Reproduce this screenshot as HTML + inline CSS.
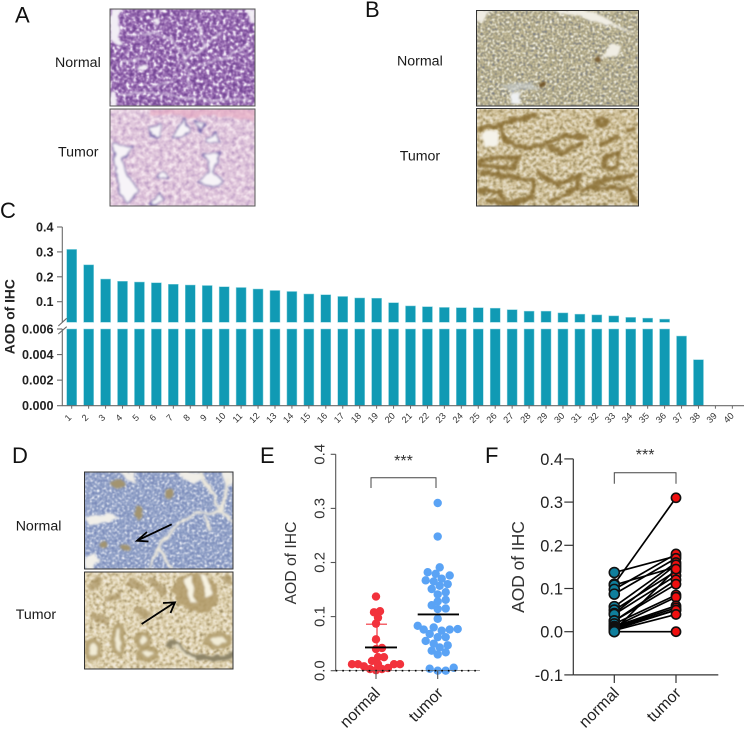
<!DOCTYPE html>
<html lang="en">
<head>
<meta charset="utf-8">
<title>AOD of IHC figure</title>
<style>
html,body{margin:0;padding:0;background:#fff;}
svg{display:block;font-family:"Liberation Sans",sans-serif;}
</style>
</head>
<body>
<svg id="fig" width="744" height="730" viewBox="0 0 744 730" xmlns="http://www.w3.org/2000/svg">
<defs>
<filter id="f-a1" x="0" y="0" width="100%" height="100%" color-interpolation-filters="sRGB">
<feTurbulence type="fractalNoise" baseFrequency="0.3" numOctaves="2" seed="3"/>
<feColorMatrix values="1 0 0 0 0 1 0 0 0 0 1 0 0 0 0 0 0 0 0 1"/>
<feComponentTransfer><feFuncR type="table" tableValues=".44 .44 .44 .47 .53 .6 .72 .92 1 1 1"/><feFuncG type="table" tableValues=".26 .26 .26 .29 .35 .43 .58 .88 1 1 1"/><feFuncB type="table" tableValues=".57 .57 .57 .6 .64 .7 .79 .95 1 1 1"/></feComponentTransfer>
<feGaussianBlur stdDeviation=".55"/>
</filter>
<filter id="f-a2" x="0" y="0" width="100%" height="100%" color-interpolation-filters="sRGB">
<feTurbulence type="fractalNoise" baseFrequency="0.22" numOctaves="3" seed="8"/>
<feColorMatrix values="1 0 0 0 0 1 0 0 0 0 1 0 0 0 0 0 0 0 0 1"/>
<feComponentTransfer><feFuncR type="table" tableValues=".66 .66 .7 .78 .84 .88 .93 .98 1 1 1"/><feFuncG type="table" tableValues=".55 .55 .6 .68 .75 .81 .87 .95 1 1 1"/><feFuncB type="table" tableValues=".72 .72 .76 .82 .85 .88 .92 .97 1 1 1"/></feComponentTransfer>
<feGaussianBlur stdDeviation=".5"/>
</filter>
<filter id="f-b1" x="0" y="0" width="100%" height="100%" color-interpolation-filters="sRGB">
<feTurbulence type="fractalNoise" baseFrequency="0.42" numOctaves="2" seed="5"/>
<feColorMatrix values="1 0 0 0 0 1 0 0 0 0 1 0 0 0 0 0 0 0 0 1"/>
<feComponentTransfer><feFuncR type="table" tableValues=".46 .46 .46 .54 .64 .72 .8 .92 1 1 1"/><feFuncG type="table" tableValues=".48 .48 .48 .54 .62 .68 .77 .92 1 1 1"/><feFuncB type="table" tableValues=".54 .54 .54 .54 .5 .54 .64 .88 1 1 1"/></feComponentTransfer>
<feGaussianBlur stdDeviation=".6"/>
</filter>
<filter id="f-b2" x="0" y="0" width="100%" height="100%" color-interpolation-filters="sRGB">
<feTurbulence type="fractalNoise" baseFrequency="0.3" numOctaves="3" seed="11"/>
<feColorMatrix values="1 0 0 0 0 1 0 0 0 0 1 0 0 0 0 0 0 0 0 1"/>
<feComponentTransfer><feFuncR type="table" tableValues=".5 .5 .55 .65 .78 .86 .92 .97 1 1 1"/><feFuncG type="table" tableValues=".45 .45 .5 .6 .72 .81 .89 .96 1 1 1"/><feFuncB type="table" tableValues=".3 .3 .36 .44 .55 .68 .8 .92 1 1 1"/></feComponentTransfer>
<feGaussianBlur stdDeviation=".5"/>
</filter>
<filter id="f-d1" x="0" y="0" width="100%" height="100%" color-interpolation-filters="sRGB">
<feTurbulence type="fractalNoise" baseFrequency="0.4" numOctaves="2" seed="2"/>
<feColorMatrix values="1 0 0 0 0 1 0 0 0 0 1 0 0 0 0 0 0 0 0 1"/>
<feComponentTransfer><feFuncR type="table" tableValues=".46 .46 .46 .5 .53 .58 .66 .84 1 1 1"/><feFuncG type="table" tableValues=".52 .52 .52 .56 .6 .64 .71 .86 1 1 1"/><feFuncB type="table" tableValues=".72 .72 .72 .74 .76 .79 .83 .92 1 1 1"/></feComponentTransfer>
<feGaussianBlur stdDeviation=".55"/>
</filter>
<filter id="f-d2" x="0" y="0" width="100%" height="100%" color-interpolation-filters="sRGB">
<feTurbulence type="fractalNoise" baseFrequency="0.3" numOctaves="3" seed="14"/>
<feColorMatrix values="1 0 0 0 0 1 0 0 0 0 1 0 0 0 0 0 0 0 0 1"/>
<feComponentTransfer><feFuncR type="table" tableValues=".55 .55 .6 .72 .84 .9 .95 .99 1 1 1"/><feFuncG type="table" tableValues=".5 .5 .55 .66 .79 .86 .92 .97 1 1 1"/><feFuncB type="table" tableValues=".36 .36 .42 .52 .64 .75 .84 .93 1 1 1"/></feComponentTransfer>
<feGaussianBlur stdDeviation=".5"/>
</filter>
<filter id="rough" x="-5%" y="-5%" width="110%" height="110%">
<feTurbulence type="fractalNoise" baseFrequency="0.12" numOctaves="2" seed="4" result="n"/>
<feDisplacementMap in="SourceGraphic" in2="n" scale="6" xChannelSelector="R" yChannelSelector="G"/>
<feGaussianBlur stdDeviation="1"/>
</filter>
<clipPath id="c-a1"><rect x="110" y="9" width="145" height="97"/></clipPath>
<clipPath id="c-a2"><rect x="110" y="109" width="145" height="97"/></clipPath>
<clipPath id="c-b1"><rect x="476.5" y="10.5" width="162" height="95.5"/></clipPath>
<clipPath id="c-b2"><rect x="476.5" y="108.5" width="162" height="97.5"/></clipPath>
<clipPath id="c-d1"><rect x="84.5" y="472" width="148.5" height="97"/></clipPath>
<clipPath id="c-d2"><rect x="84.5" y="572" width="148.5" height="97"/></clipPath>
</defs>

<!-- panel letters -->
<g font-size="22" fill="#111">
<text x="15" y="22.5">A</text>
<text x="365" y="17">B</text>
<text x="0" y="218">C</text>
<text x="12" y="463">D</text>
<text x="260" y="463">E</text>
<text x="485" y="463">F</text>
</g>

<!-- row labels -->
<g font-size="14.2" fill="#1a1a1a">
<text x="55" y="67">Normal</text>
<text x="58" y="156.7">Tumor</text>
<text x="397" y="65.7">Normal</text>
<text x="399.7" y="160.7">Tumor</text>
<text x="15.7" y="530.7">Normal</text>
<text x="15.7" y="619">Tumor</text>
</g>

<!-- panel A normal -->
<g clip-path="url(#c-a1)">
<rect x="110" y="9" width="145" height="97" filter="url(#f-a1)"/>
<g fill="#f2eef5" filter="url(#rough)">
<path d="M110 9H121L118 24 122 44 115 46 110 36Z"/>
<path d="M247 9H255V26L250 20Z"/>
<path d="M110 92 116 94 117 106H110Z"/>
<ellipse cx="157" cy="22" rx="2.5" ry="3"/>
<ellipse cx="143" cy="68" rx="5" ry="2.5"/>
</g>
<g fill="none" stroke="#f3edf7" stroke-width="1.4" opacity=".9" filter="url(#rough)">
<path d="M120 95Q150 90 175 96T250 99"/>
<path d="M185 58 188 72 190 88M185 58 205 48 222 32"/>
<path d="M135 35 155 33 172 40 185 58"/>
<path d="M122 62 150 58M200 65 222 60 250 45M195 15 205 48M150 88 175 80"/>
</g>
</g>
<rect x="110" y="9" width="145" height="97" fill="none" stroke="#555" stroke-width="1"/>

<!-- panel A tumor -->
<g clip-path="url(#c-a2)">
<rect x="110" y="109" width="145" height="97" filter="url(#f-a2)"/>
<rect x="110" y="109" width="145" height="97" fill="#dfb4cf" opacity=".25"/>
<path d="M150 109H255V122Q215 112 190 118 170 112 150 116Z" fill="#e9a9c0" opacity=".6" filter="url(#rough)"/>
<g fill="#f7f4f8" stroke="#6f5ea8" stroke-width="1.3" filter="url(#rough)">
<path d="M113 144 124 145 132 146 128 152 122 160 126 172 134 184 138 192 128 203 120 195 116 170Z"/>
<path d="M149 128 162 124 160 138 151 137Z"/>
<path d="M172 138 185 118 190 132 178 139Z"/>
<path d="M205 138 216 132 220 143 206 143Z"/>
<path d="M203 154 220 154 212 172 222 181 214 187 198 182 208 172 209 162Z"/>
<ellipse cx="163" cy="176" rx="5" ry="3"/>
<path d="M150 204 160 192 164 200 157 205Z"/>
<path d="M195 120 205 124 200 132Z"/>
</g>
</g>
<rect x="110" y="109" width="145" height="97" fill="none" stroke="#555" stroke-width="1"/>

<!-- panel B normal -->
<g clip-path="url(#c-b1)">
<rect x="476.5" y="10.5" width="162" height="95.5" filter="url(#f-b1)"/>
<g filter="url(#rough)">
<path d="M476 10H492L482 22H476ZM548 10H585L600 14 615 24 636 34 610 26 580 16 560 14ZM600 58 612 44 622 46 616 56Z" fill="#f0ede4"/>
<path d="M512 92 520 92 522 104H510Z" fill="#eef0f2"/>
<path d="M500 85 530 82 540 88 510 92Z" fill="#c9d0d6" opacity=".6"/>
<ellipse cx="543" cy="85" rx="4" ry="2.5" fill="#6d5022"/>
<ellipse cx="597" cy="59" rx="4" ry="2.5" fill="#7a6034"/>
</g>
</g>
<rect x="476.5" y="10.5" width="162" height="95.5" fill="none" stroke="#333" stroke-width="1"/>

<!-- panel B tumor -->
<g clip-path="url(#c-b2)">
<rect x="476.5" y="108.5" width="162" height="97.5" filter="url(#f-b2)"/>
<rect x="476.5" y="108.5" width="162" height="97.5" fill="#b59c66" opacity=".25"/>
<g fill="none" stroke="#84672c" stroke-width="4.5" opacity=".8" filter="url(#rough)">
<path d="M478 130 500 125 513 120 537 115"/>
<path d="M500 125 507 142 527 148 547 143 567 135 587 138"/>
<path d="M547 147 563 153 583 142"/>
<path d="M478 162 493 157 520 158 513 168 490 167 478 165"/>
<path d="M480 173 503 175 533 180 532 198 510 202"/>
<path d="M537 172 557 185 580 175 577 188 550 202"/>
<path d="M580 192 603 180 635 175"/>
<path d="M590 188 627 188 635 202"/>
<path d="M603 168 607 155 620 152 617 168 603 168"/>
<path d="M478 190 500 192 505 200"/>
<path d="M625 130 636 128M600 145 620 136"/>
<path d="M485 200 520 205"/>
<ellipse cx="602" cy="122" rx="5" ry="3"/>
</g>
<path d="M482 133 497 130 498 147 485 148Z" fill="#f5f3ea" filter="url(#rough)"/>
</g>
<rect x="476.5" y="108.5" width="162" height="97.5" fill="none" stroke="#333" stroke-width="1"/>

<!-- panel D normal -->
<g clip-path="url(#c-d1)">
<rect x="84.5" y="472" width="148.5" height="97" filter="url(#f-d1)"/>
<g filter="url(#rough)">
<path d="M120 472H133L137 484 128 481ZM180 472H199L205 476 195 484 184 480ZM222 472H233V485L226 488Z" fill="#f0eee8"/>
<path d="M85 516 100 515 114 513 118 519 106 522 90 526ZM85 555 96 552 99 560 92 569H85Z" fill="#f2f0ea"/>
<g fill="#a3946f">
<ellipse cx="118" cy="484" rx="7" ry="5"/>
<ellipse cx="169" cy="493" rx="4" ry="6"/>
<ellipse cx="139" cy="513" rx="4" ry="7"/>
<ellipse cx="103" cy="545" rx="4" ry="4"/>
<ellipse cx="126" cy="547" rx="5" ry="4"/>
</g>
<g fill="none" stroke="#ece8dc" stroke-width="3">
<path d="M228 480 222 512 233 522"/>
<path d="M222 512 198 513 180 522 158 548 150 569"/>
<path d="M158 548 172 569"/>
<path d="M205 516 210 530"/>
<path d="M200 472 215 500 222 512"/>
</g>
</g>
</g>
<rect x="84.5" y="472" width="148.5" height="97" fill="none" stroke="#333" stroke-width="1"/>
<g stroke="#000" stroke-width="1.8" fill="none">
<path d="M171.7 524.3 137 540.7M147 532 137 540.7 148.5 541.5"/>
</g>

<!-- panel D tumor -->
<g clip-path="url(#c-d2)">
<rect x="84.5" y="572" width="148.5" height="97" filter="url(#f-d2)"/>
<rect x="84.5" y="572" width="148.5" height="97" fill="#c2ad7a" opacity=".22"/>
<g filter="url(#rough)">
<path d="M172 590 180 577 190 573 204 572 217 585 219 600 208 612 190 610 178 602Z" fill="#b09a68" opacity=".85"/>
<path d="M184 578 191 576 197 604 190 603ZM199 574 206 575 213 596 206 597Z" fill="#f7f3e2"/>
<g fill="#f2ecd6" stroke="#ab9663" stroke-width="5" stroke-opacity=".8">
<ellipse cx="93" cy="650" rx="6" ry="9"/>
<ellipse cx="118" cy="640" rx="5" ry="14"/>
<ellipse cx="143" cy="640" rx="6" ry="6"/>
<ellipse cx="148" cy="654" rx="9" ry="5"/>
<ellipse cx="218" cy="641" rx="11" ry="6"/>
</g>
<g fill="none" stroke="#a8925f" stroke-width="7" stroke-opacity=".7">
<path d="M90 590 100 578 M105 600 120 595 M128 582 145 590 M150 578 165 595 M92 615 108 622 M135 610 150 616"/>
<path d="M224 576 230 582"/>
</g>
<path d="M168 648Q170 637 177 645T190 655 215 658 232 652" fill="none" stroke="#8d8468" stroke-width="5"/>
<path d="M172 648Q176 643 180 650T195 658" fill="none" stroke="#efe9d2" stroke-width="2"/>
</g>
</g>
<rect x="84.5" y="572" width="148.5" height="97" fill="none" stroke="#333" stroke-width="1"/>
<g stroke="#000" stroke-width="1.8" fill="none">
<path d="M141.7 624 175 602.3M163 603 175 602.3 170.5 613"/>
</g>

<g id="chart-c"></g>
<g id="chart-e"></g>
<g id="chart-f"></g>
</svg>

<script>
// ---- data ----
var sampleLabels = ['1','2','3','4','5','6','7','8','9','10','11','12','13','14','15','16','17','18','19','20','21','22','23','24','25','26','27','28','29','30','31','32','33','34','35','36','37','38','39','40'];
var sampleAod = [0.31,0.248,0.191,0.182,0.179,0.176,0.17,0.167,0.165,0.16,0.157,0.151,0.145,0.141,0.131,0.128,0.121,0.115,0.114,0.096,0.083,0.08,0.077,0.076,0.076,0.074,0.068,0.062,0.062,0.055,0.05,0.047,0.043,0.037,0.034,0.03,0.00545,0.0036,0,0];
var upperTicks = [0.1,0.2,0.3,0.4];
var upperTickLabels = ['0.1','0.2','0.3','0.4'];
var lowerTicks = [0,0.002,0.004,0.006];
var lowerTickLabels = ['0.000','0.002','0.004','0.006'];

var scatterNormal = [0.137,0.11,0.108,0.098,0.087,0.058,0.042,0.04,0.025,0.025,0.018,0.012,0.012,0.012,0.012,0.012,0.008,0.005,0.003,0.003,0.001];
var scatterTumor = sampleAod;
var scatterNormalMean = 0.043;
var scatterTumorMean = 0.104;
var scatterNormalSdTop = 0.086;
var scatterTicks = [0,0.1,0.2,0.3,0.4];
var scatterTickLabels = ['0.0','0.1','0.2','0.3','0.4'];
var groupLabels = ['normal','tumor'];

var pairedNormal = [0.137,0.11,0.108,0.098,0.087,0.058,0.05,0.042,0.04,0.025,0.025,0.018,0.012,0.012,0.01,0.008,0.005,0.003,0.003,0];
var pairedTumor = [0.175,0.31,0.15,0.18,0.17,0.16,0.14,0.155,0.13,0.12,0.11,0.085,0.08,0.06,0.055,0.05,0.05,0.04,0.145,0];
var pairedTicks = [-0.1,0,0.1,0.2,0.3,0.4];
var pairedTickLabels = ['-0.1','0.0','0.1','0.2','0.3','0.4'];

// ---- helpers ----
var NS = 'http://www.w3.org/2000/svg';
function make(parent, tag, attrs, txt) {
  var el = document.createElementNS(NS, tag);
  for (var k in attrs) el.setAttribute(k, attrs[k]);
  if (txt !== undefined) el.textContent = txt;
  parent.appendChild(el);
  return el;
}
function line(parent, x1, y1, x2, y2, color, w) {
  return make(parent, 'line', {x1:x1, y1:y1, x2:x2, y2:y2, stroke:color, 'stroke-width':w});
}

// ---- panel C ----
(function () {
  var g = document.getElementById('chart-c');
  var axisColor = '#6a6a6a', barColor = '#109ab4', barEdge = '#8ad3df';
  function xC(i) { return 71.7 + i * 16.94; }
  function yUp(v) { return 301.7 + (0.1 - v) * 249; }
  function yLow(v) { return 405.7 - v * 12783; }
  var breakBottom = 322.3, breakTop = yLow(0.006);

  sampleAod.forEach(function (v, i) {
    if (v > 0.006) {
      var up = make(g, 'rect', {x:xC(i)-5, y:yUp(v), width:10, height:Math.max(0, breakBottom-yUp(v)), fill:barColor, stroke:barEdge, 'stroke-width':0.5});
      
      
    }
    if (v > 0) {
      var top = yLow(Math.min(v, 0.006));
      var low = make(g, 'rect', {x:xC(i)-5, y:top, width:10, height:405.7-top, fill:barColor, stroke:barEdge, 'stroke-width':0.5});
      
      
    }
  });

  var yAxisUp = line(g, 62.3, yUp(0.4), 62.3, 322, axisColor, 1.1);
  
  
  var yAxisLow = line(g, 62.3, breakTop, 62.3, 405.7, axisColor, 1.1);
  
  
  var b1 = line(g, 58.3, 326, 66.7, 318.3, axisColor, 1.1);
  
  
  var b2 = line(g, 58.3, 334, 66.7, 326.7, axisColor, 1.1);
  
  
  var xAxis = line(g, 62, 405.7, 744, 405.7, axisColor, 1.1);
  
  

  function yTick(y, label) {
    var t = line(g, 57, y, 62.3, y, axisColor, 1.1);
    
    
    var l = make(g, 'text', {x:53.5, y:y+4.5, 'text-anchor':'end', 'font-size':12.6, 'font-weight':'bold', fill:'#222'}, label);
    
    
  }
  upperTicks.forEach(function (v, i) { yTick(yUp(v), upperTickLabels[i]); });
  lowerTicks.forEach(function (v, i) { yTick(yLow(v), lowerTickLabels[i]); });

  sampleLabels.forEach(function (s, i) {
    var x = xC(i);
    var t = line(g, x, 405.7, x, 408.7, axisColor, 1);
    
    
    var l = make(g, 'text', {x:0, y:0, 'text-anchor':'middle', 'font-size':9.2, fill:'#333', transform:'translate(' + (x-1.5) + ',420) rotate(-45)'}, s);
    
    
  });

  var title = make(g, 'text', {x:0, y:0, 'text-anchor':'middle', 'font-size':13.8, 'font-weight':'bold', fill:'#222', transform:'translate(14.5,316.7) rotate(-90)'}, 'AOD of IHC');
  
  
})();

// ---- shared bracket ----
function bracket(g, x1, x2, yTop, yBot, color, starY) {
  var p = make(g, 'path', {d:'M'+x1+' '+yBot+'V'+yTop+'H'+x2+'V'+yBot, fill:'none', stroke:color, 'stroke-width':1});
  
  
  var s = make(g, 'text', {x:(x1+x2)/2, y:starY, 'text-anchor':'middle', 'font-size':16, fill:'#333'}, '***');
  
  
}
function groupLabel(g, x, y, txt, size) {
  var l = make(g, 'text', {x:0, y:0, 'text-anchor':'end', 'font-size':size, fill:'#222', transform:'translate('+x+','+y+') rotate(-45)'}, txt);
  
  
}

// ---- panel E ----
(function () {
  var g = document.getElementById('chart-e');
  var axisColor = '#555';
  var cxN = 376, cxT = 437.7, axisX = 335.7, zeroY = 670.7;
  function yE(v) { return zeroY - v * 541; }
  // deterministic beeswarm: each value takes nearest free horizontal slot
  function swarm(values, minDist) {
    var placed = [];
    var order = values.map(function (v, i) { return i; }).sort(function (a, b) { return values[a] - values[b]; });
    var res = new Array(values.length);
    order.forEach(function (idx) {
      var y = yE(values[idx]);
      for (var k = 0; k < 40; k++) {
        var off = (k % 2 ? 1 : -1) * Math.ceil(k / 2) * 2;
        var ok = placed.every(function (p) { return Math.hypot(p[0] - off, p[1] - y) >= minDist; });
        if (ok) { res[idx] = off; placed.push([off, y]); return; }
      }
      res[idx] = 0;
    });
    return res;
  }
  var offN = swarm(scatterNormal, 6);
  scatterNormal.forEach(function (v, i) {
    var c = make(g, 'circle', {cx:cxN + offN[i], cy:yE(v), r:4.2, fill:'#f2323c'});
    
    
  });
  var offT = swarm(scatterTumor, 7);
  scatterTumor.forEach(function (v, i) {
    var c = make(g, 'circle', {cx:cxT + offT[i], cy:yE(v), r:4.2, fill:'#5aa3f5'});
    
    
  });

  var sd = line(g, cxN + 1, yE(scatterNormalSdTop), cxN + 1, yE(0), '#f2323c', 1.2);
  
  
  var cap = line(g, cxN - 10, yE(scatterNormalSdTop), cxN + 11, yE(scatterNormalSdTop), '#f2323c', 1.2);
  
  
  var mN = line(g, 365, yE(scatterNormalMean), 397, yE(scatterNormalMean), '#000', 1.8);
  
  
  var mT = line(g, 417.7, yE(scatterTumorMean), 459, yE(scatterTumorMean), '#000', 1.8);
  
  

  var ya = line(g, axisX, yE(0.4), axisX, zeroY, axisColor, 1.1);
  
  
  var base = line(g, axisX, zeroY, 480, zeroY, '#555', 0.7);
  
  
  var dots = make(g, 'line', {x1:axisX, y1:zeroY, x2:480, y2:zeroY, stroke:'#000', 'stroke-width':1.6, 'stroke-dasharray':'1.6 5'});
  
  

  scatterTicks.forEach(function (v, i) {
    var y = yE(v);
    var t = line(g, axisX - 5, y, axisX, y, axisColor, 1.1);
    
    
    var l = make(g, 'text', {x:0, y:0, 'text-anchor':'middle', 'font-size':15, fill:'#333', transform:'translate(324.5,'+y+') rotate(-90)'}, scatterTickLabels[i]);
    
    
  });
  [cxN, cxT].forEach(function (x) {
    var t = line(g, x, zeroY, x, 679, axisColor, 1.1);
    
    
  });
  groupLabel(g, 381, 694, groupLabels[0], 16);
  groupLabel(g, 444, 694, groupLabels[1], 16);

  var title = make(g, 'text', {x:0, y:0, 'text-anchor':'middle', 'font-size':15.7, fill:'#333', transform:'translate(296,563) rotate(-90)'}, 'AOD of IHC');
  
  

  bracket(g, 371, 436, 477.7, 488, '#444', 466);
})();

// ---- panel F ----
(function () {
  var g = document.getElementById('chart-f');
  var axisColor = '#333';
  var cxN = 614.3, cxT = 676, axisX = 573.3;
  function yF(v) { return 631.7 - v * 432; }
  pairedNormal.forEach(function (v, i) {
    var l = line(g, cxN, yF(v), cxT, yF(pairedTumor[i]), '#000', 1.7);
    
    
  });
  pairedNormal.forEach(function (v) {
    var c = make(g, 'circle', {cx:cxN, cy:yF(v), r:5, fill:'#0f7f9d', stroke:'#111', 'stroke-width':1.6});
    
    
  });
  pairedTumor.forEach(function (v) {
    var c = make(g, 'circle', {cx:cxT, cy:yF(v), r:4.6, fill:'#f00f0f', stroke:'#111', 'stroke-width':1.6});
    
    
  });

  var ya = line(g, axisX, yF(0.4), axisX, yF(-0.1), axisColor, 1.2);
  
  
  var xa = line(g, axisX, yF(-0.1), 718.3, yF(-0.1), axisColor, 1.2);
  
  

  pairedTicks.forEach(function (v, i) {
    var y = yF(v);
    var t = line(g, axisX - 9, y, axisX, y, axisColor, 1.2);
    
    
    var l = make(g, 'text', {x:563, y:y+6, 'text-anchor':'end', 'font-size':16.4, fill:'#222'}, pairedTickLabels[i]);
    
    
  });
  [cxN, cxT].forEach(function (x) {
    var t = line(g, x, yF(-0.1), x, 683, axisColor, 1.2);
    
    
  });
  groupLabel(g, 620, 694, groupLabels[0], 16);
  groupLabel(g, 682, 694, groupLabels[1], 16);

  var title = make(g, 'text', {x:0, y:0, 'text-anchor':'middle', 'font-size':17.4, fill:'#333', transform:'translate(524,567) rotate(-90)'}, 'AOD of IHC');
  
  

  bracket(g, 614.3, 676, 472.7, 483.7, '#444', 460);
})();
</script>
</body>
</html>
